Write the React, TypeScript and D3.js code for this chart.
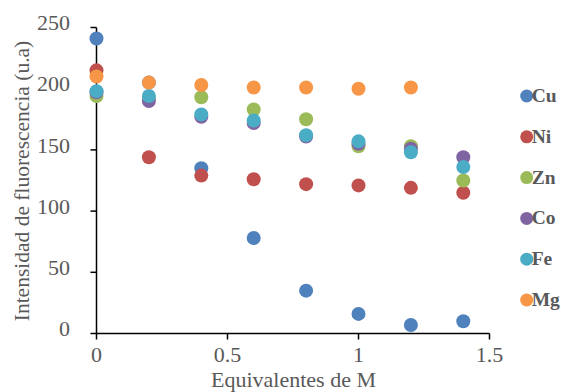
import React from "react";
import * as d3 from "d3";

const xValues = [0, 0.2, 0.4, 0.6, 0.8, 1.0, 1.2, 1.4];
const cu = [241, 205, 135, 78, 35, 16, 7, 10];
const ni = [215, 144, 129, 126, 122, 121, 119, 115];
const zn = [194, 192, 193, 183, 175, 153, 153, 125];
const co = [197, 190, 177, 172, 161, 155, 151, 144];
const fe = [198, 194, 179, 174, 162, 157, 148, 136];
const mg = [210, 205, 203, 201, 201, 200, 201, null];

const seriesNames = ["Cu", "Ni", "Zn", "Co", "Fe", "Mg"];
const seriesValues = [cu, ni, zn, co, fe, mg];
const seriesColors = ["#4F81BD", "#C0504D", "#9BBB59", "#8064A2", "#4BACC6", "#F79646"];

const xTicks = [0, 0.5, 1, 1.5];
const yTicks = [0, 50, 100, 150, 200, 250];

const W = 561;
const H = 392;
const left = 96.5;
const right = 489.5;
const top = 27.5;
const bottom = 333.5;

export default function App() {
  const x = d3.scaleLinear().domain([0, 1.5]).range([left, right]);
  const y = d3.scaleLinear().domain([0, 250]).range([bottom, top]);
  const font = "'Liberation Serif', 'Times New Roman', serif";
  const gray = "#595959";
  return (
    <svg width={W} height={H} style={{ position: "absolute", left: 0, top: 0 }}>
      <rect width={W} height={H} fill="#fff" />
      {/* axes */}
      <line x1={left} x2={left} y1={top} y2={bottom} stroke="#000" strokeWidth={1.5} />
      <line x1={left} x2={right} y1={bottom} y2={bottom} stroke="#000" strokeWidth={1.5} />
      {yTicks.map((t) => (
        <g key={"y" + t}>
          <line x1={left - 6} x2={left} y1={y(t)} y2={y(t)} stroke="#000" strokeWidth={1.5} />
          <text x={70} y={y(t) + 2.7} textAnchor="end" fontFamily={font} fontSize={22} fill={gray}>
            {t}
          </text>
        </g>
      ))}
      {xTicks.map((t) => (
        <g key={"x" + t}>
          <line x1={x(t)} x2={x(t)} y1={bottom} y2={bottom + 6} stroke="#000" strokeWidth={1.5} />
          <text x={x(t)} y={361.7} textAnchor="middle" fontFamily={font} fontSize={22} fill={gray}>
            {t}
          </text>
        </g>
      ))}
      <text
        transform={`translate(28.5,${181}) rotate(-90)`}
        textAnchor="middle"
        fontFamily={font}
        fontSize={21.5}
        fill={gray}
      >
        Intensidad de fluorescencia (u.a)
      </text>
      <text x={293.5} y={386.5} textAnchor="middle" fontFamily={font} fontSize={22} fill={gray}>
        Equivalentes de M
      </text>
      {/* points */}
      {seriesValues.map((vals, si) => (
        <g key={seriesNames[si]}>
          {vals.map((v, i) =>
            v == null ? null : (
              <circle key={i} cx={x(xValues[i])} cy={y(v)} r={7} fill={seriesColors[si]} />
            )
          )}
        </g>
      ))}
      {/* legend */}
      {seriesNames.map((n, i) => (
        <g key={"l" + n} transform={`translate(0,${96 + i * 40.8})`}>
          <circle cx={526.7} cy={0} r={6.5} fill={seriesColors[i]} />
          <text x={531.7} y={6} fontFamily={font} fontWeight="bold" fontSize={19.5} fill={gray}>
            {n}
          </text>
        </g>
      ))}
    </svg>
  );
}
